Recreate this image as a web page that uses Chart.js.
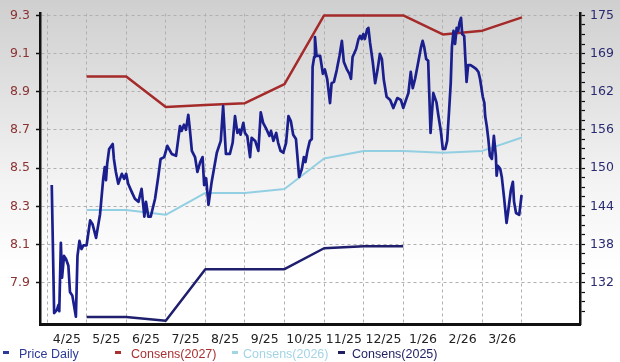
<!DOCTYPE html>
<html>
<head>
<meta charset="utf-8">
<script src="https://cdn.jsdelivr.net/npm/chart.js@4.4.1/dist/chart.umd.min.js"></script>
<style>
  html, body { margin: 0; padding: 0; }
  body {
    width: 620px; height: 362px; overflow: hidden; position: relative;
    background: linear-gradient(to bottom, #cfcfcf 0%, #f3f3f3 50%, #ffffff 75%);
    font-family: "Liberation Sans", Arial, sans-serif;
  }
  #chart { position: absolute; left: 0; top: 0; }
  .legend { position: absolute; left: 0; top: 347px; width: 620px; height: 15px; font-size: 12.5px; line-height: 14px; }
  .legend span { position: absolute; top: 0; white-space: nowrap; }
  .legend i { position: absolute; top: 4px; height: 3px; }
</style>
</head>
<body>
<canvas id="chart" width="620" height="362"></canvas>
<div class="legend">
  <i style="left:3px;width:6px;background:#2d3a96"></i><span style="left:19px;color:#2d3a96">Price Daily</span>
  <i style="left:115px;width:6px;background:#a83232"></i><span style="left:131px;color:#a83232">Consens(2027)</span>
  <i style="left:232px;width:6px;background:#a3d4e6"></i><span style="left:243px;color:#a3d4e6">Consens(2026)</span>
  <i style="left:338px;width:7px;background:#1f1f62"></i><span style="left:352px;color:#1f1f62">Consens(2025)</span>
</div>
<script>
// month labels, x = months since start of April 2025
const monthLabels = ["4/25", "5/25", "6/25", "7/25", "8/25", "9/25", "10/25", "11/25", "12/25", "1/26", "2/26", "3/26"];
const leftTicks = [7.9, 8.1, 8.3, 8.5, 8.7, 8.9, 9.1, 9.3];
const rightLabels = ["132", "138", "144", "150", "156", "162", "169", "175"];

// consensus estimates (left axis)
const consMonths = [1, 2, 3, 4, 5, 6, 7, 8, 9, 10, 11, 12];
const cons2027 = [8.98, 8.98, 8.82, 8.83, 8.84, 8.94, 9.30, 9.30, 9.30, 9.20, 9.22, 9.29];
const cons2026 = [8.28, 8.28, 8.255, 8.37, 8.37, 8.39, 8.55, 8.59, 8.59, 8.58, 8.59, 8.66];
const cons2025 = [7.72, 7.72, 7.70, 7.97, 7.97, 7.97, 8.08, 8.09, 8.09];

// daily price (right axis)
const priceMonths = [
  0.12, 0.18, 0.25, 0.29, 0.31, 0.35, 0.38, 0.43, 0.48, 0.54, 0.58, 0.64, 0.73, 0.77, 0.82, 0.87, 0.92, 1.00,
  1.09, 1.15, 1.24, 1.34, 1.42, 1.46, 1.49, 1.52, 1.57, 1.66, 1.69, 1.74, 1.80, 1.89, 1.95, 2.00,
  2.05, 2.14, 2.22, 2.31, 2.39, 2.46, 2.50, 2.56, 2.62, 2.73, 2.81, 2.87, 2.96, 3.04,
  3.15, 3.26, 3.32, 3.36, 3.40, 3.46, 3.51, 3.57, 3.61, 3.66, 3.74, 3.80, 3.87, 3.93, 3.97, 4.02,
  4.08, 4.16, 4.29, 4.39, 4.45, 4.52, 4.62, 4.69, 4.75, 4.81, 4.86, 4.89, 4.96, 5.00,
  5.06, 5.13, 5.17, 5.26, 5.34, 5.40, 5.46, 5.55, 5.62, 5.66, 5.72, 5.79, 5.84, 5.90, 5.97, 6.04,
  6.10, 6.16, 6.22, 6.29, 6.37, 6.44, 6.49, 6.53, 6.58, 6.64, 6.69, 6.71, 6.75, 6.77, 6.81, 6.90, 6.97,
  7.02, 7.08, 7.15, 7.19, 7.25, 7.32, 7.39, 7.45, 7.50, 7.57, 7.64, 7.68, 7.72, 7.81, 7.87, 7.91, 7.95, 7.99,
  8.03, 8.09, 8.12, 8.16, 8.23, 8.29, 8.35, 8.41, 8.46, 8.51, 8.58, 8.67, 8.75, 8.85, 8.94, 9.00,
  9.07, 9.13, 9.19, 9.24, 9.30, 9.38, 9.45, 9.49, 9.53, 9.58, 9.63, 9.69, 9.76, 9.84, 9.89, 9.95, 10.00,
  10.06, 10.11, 10.16, 10.20, 10.23, 10.27, 10.31, 10.35, 10.39, 10.42, 10.46, 10.49, 10.54, 10.60, 10.64,
  10.70, 10.77, 10.84, 10.90, 10.94, 11.01, 11.05, 11.07, 11.11, 11.15, 11.19, 11.24, 11.29, 11.34, 11.36,
  11.39, 11.45, 11.49, 11.55, 11.61, 11.65, 11.72, 11.77, 11.80, 11.85, 11.93, 11.99
];
const priceDaily = [
  147.7, 127.1, 127.6, 128.4, 127.4, 138.4, 132.8, 136.3, 135.8, 134.7, 130.5, 129.9, 126.5, 136.3, 138.7, 137.4, 138.0, 138.0,
  142.0, 141.4, 139.2, 143.0, 148.7, 150.6, 148.5, 151.1, 153.5, 154.3, 151.9, 149.8, 147.9, 149.5, 148.7, 149.5,
  147.9, 146.6, 145.5, 145.0, 147.1, 142.6, 145.0, 142.6, 142.6, 145.5, 149.0, 151.9, 152.2, 154.0,
  152.7, 152.4, 155.3, 157.2, 156.4, 157.4, 156.6, 159.0, 156.6, 153.2, 152.2, 149.8, 151.4, 152.2, 147.7, 148.8,
  144.5, 148.2, 152.9, 154.8, 160.4, 152.7, 152.7, 154.5, 158.8, 156.1, 156.6, 155.8, 157.7, 156.1,
  155.6, 152.2, 155.3, 154.8, 153.2, 159.4, 157.7, 156.6, 155.6, 156.4, 154.8, 156.1, 154.5, 153.2, 152.9, 154.5,
  158.8, 158.0, 155.8, 155.1, 149.0, 150.3, 152.2, 151.4, 153.2, 154.8, 155.1, 166.7, 168.3, 171.5, 168.5, 168.5, 165.6,
  166.3, 164.7, 160.9, 164.1, 164.3, 166.2, 168.5, 170.9, 167.5, 166.4, 165.6, 164.8, 168.3, 169.6, 171.2, 171.7, 171.2, 172.0,
  171.2, 172.8, 173.0, 170.7, 167.5, 164.1, 166.2, 168.8, 168.0, 164.6, 161.9, 161.4, 160.1, 161.7, 161.4, 160.1,
  161.4, 162.5, 165.9, 163.3, 164.8, 167.5, 169.9, 170.9, 169.9, 168.0, 167.7, 156.1, 162.5, 161.0, 158.8, 156.4, 153.5,
  153.5, 154.8, 159.8, 164.1, 169.9, 172.5, 170.4, 173.0, 172.5, 173.8, 174.6, 172.0, 171.7, 164.3, 167.0,
  167.0, 166.7, 166.4, 165.9, 164.8, 161.9, 160.9, 158.8, 157.2, 155.1, 152.4, 151.9, 155.6, 152.4, 149.2,
  150.8, 150.3, 149.0, 145.5, 141.6, 143.4, 146.9, 148.2, 145.0, 143.2, 142.9, 146.1
];

// the two value axes share the same grid
const leftMin = 7.683, leftMax = 9.31;
const toRight = (v) => 132 + (v - 7.9) * (43 / 1.4);
const rightStep = 43 / 28;

const pts = (xs, ys) => ys.map((y, i) => ({ x: xs[i], y: y }));

const tickFont = { family: "DejaVu Sans", size: 12.5 };

new Chart(document.getElementById("chart"), {
  type: "line",
  data: {
    datasets: [
      { label: "Price Daily", data: pts(priceMonths, priceDaily), yAxisID: "y2", borderColor: "#1b1f8e", borderWidth: 2.7 },
      { label: "Consens(2027)", data: pts(consMonths, cons2027), yAxisID: "y", borderColor: "#a52a2a", borderWidth: 2.5 },
      { label: "Consens(2026)", data: pts(consMonths, cons2026), yAxisID: "y", borderColor: "#93cfe2", borderWidth: 2 },
      { label: "Consens(2025)", data: pts(consMonths, cons2025), yAxisID: "y", borderColor: "#1f1f6e", borderWidth: 2.5 },
    ],
  },
  options: {
    responsive: false,
    devicePixelRatio: 1,
    animation: false,
    layout: { padding: { top: 9, bottom: 18, left: 0, right: 0 } },
    elements: { point: { radius: 0 }, line: { tension: 0, borderJoinStyle: "round" } },
    plugins: { legend: { display: false }, tooltip: { enabled: false } },
    scales: {
      x: {
        type: "linear",
        min: -0.177,
        max: 13.466,
        afterBuildTicks: (s) => { s.ticks = monthLabels.concat([""]).map((_, i) => ({ value: i })); },
        afterFit: (s) => { s.height = 20; },
        ticks: {
          autoSkip: false, maxRotation: 0, padding: 8, labelOffset: 19.8,
          color: "#222", font: tickFont,
          callback: (v) => monthLabels[v] || "",
        },
        grid: { color: "#b0b0b0", drawTicks: false },
        border: { display: true, color: "#111", width: 3, dash: [3, 3] },
      },
      y: {
        position: "left",
        min: leftMin,
        max: leftMax,
        afterBuildTicks: (s) => { s.ticks = leftTicks.map((v) => ({ value: v })); },
        afterFit: (s) => { s.width = 40; },
        ticks: { padding: 6, color: "#8b3333", font: tickFont, callback: (v) => v.toFixed(1) },
        grid: { color: "#b0b0b0", tickLength: 4, tickColor: "#111", tickWidth: 1.5, tickBorderDash: [1, 0] },
        border: { display: true, color: "#111", width: 2.5, dash: [3, 3] },
      },
      y2: {
        position: "right",
        min: toRight(leftMin),
        max: toRight(leftMax),
        afterBuildTicks: (s) => {
          const t = [];
          for (let k = -4; k <= 28; k++) t.push({ value: 132 + k * rightStep });
          s.ticks = t;
        },
        afterFit: (s) => { s.width = 40; },
        ticks: {
          autoSkip: false, padding: 5, color: "#2a2a72", font: tickFont,
          callback: function (v, i) {
            const k = i - 4;
            return k % 4 === 0 ? rightLabels[k / 4] : "";
          },
        },
        grid: { drawOnChartArea: false, tickLength: 5, tickColor: "#111", tickWidth: 1.2 },
        border: { display: true, color: "#111", width: 2.5 },
      },
    },
  },
});
</script>
</body>
</html>
